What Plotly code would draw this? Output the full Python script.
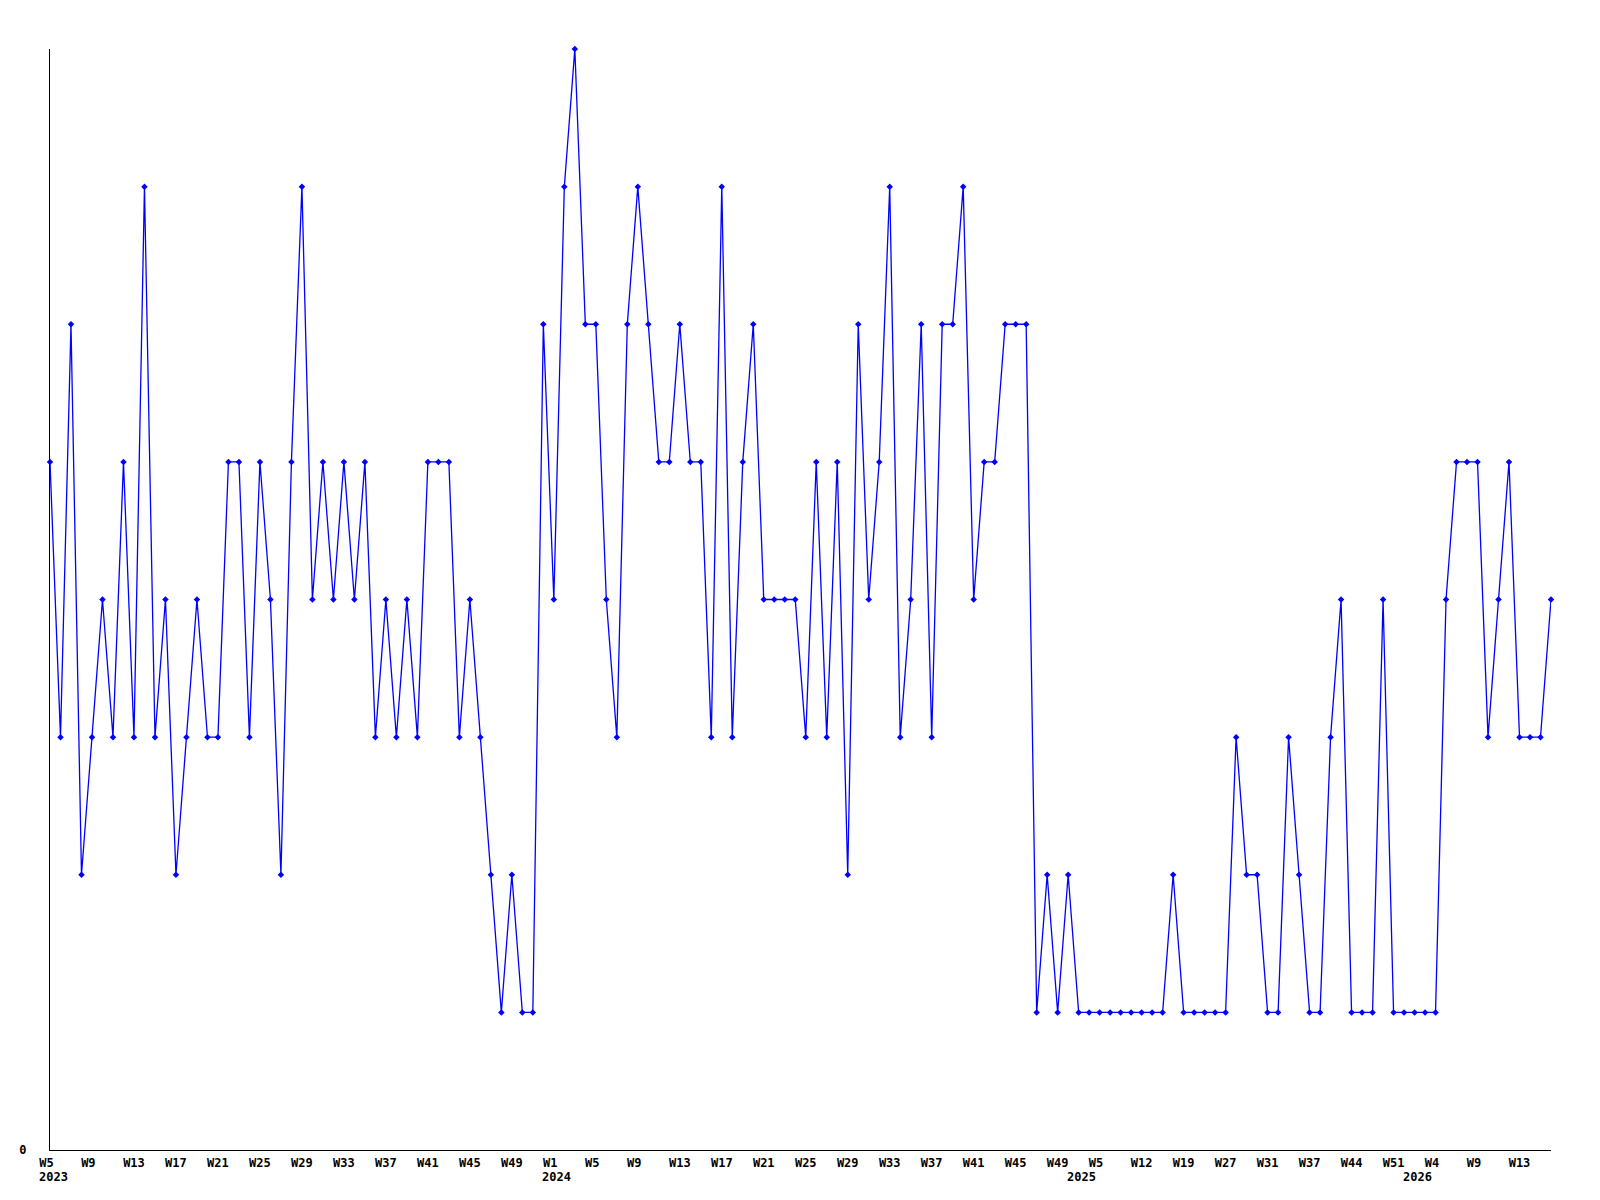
import plotly.graph_objects as go

# ---- data ----
weeks_2023 = list(range(5, 53))
weeks_2024 = list(range(1, 50)) + [51]
weeks_2025 = [2, 3, 5, 7, 9, 10, 12, 14, 15, 17, 19, 21, 23, 25, 27, 28, 29, 30, 31, 32, 34, 35,
              37, 39, 40, 42, 44, 46, 47, 49, 51, 52]
weeks_2026 = [1, 2, 4, 5, 6, 8, 9, 10, 11, 12, 13, 14, 15, 16]

values = [5, 3, 6, 2, 3, 4, 3, 5, 3, 7, 3, 4, 2, 3, 4, 3, 3, 5, 5, 3, 5, 4, 2, 5, 7, 4, 5,
          4, 5, 4, 5, 3, 4, 3, 4, 3, 5, 5, 5, 3, 4, 3, 2, 1, 2, 1, 1,
          6, 4, 7, 8, 6, 6, 4, 3, 6, 7, 6, 5, 5, 6, 5, 5, 3, 7, 3, 5, 6, 4, 4, 4, 4, 3, 5, 3, 5,
          2, 6, 4, 5, 7, 3, 4, 6, 3, 6, 6, 7, 4, 5, 5, 6, 6, 6,
          1, 2, 1, 2,
          1, 1, 1, 1, 1, 1, 1, 1, 1,
          2, 1, 1, 1, 1, 1, 3, 2, 2, 1, 1, 3, 2, 1, 1, 3, 4, 1, 1, 1, 4, 1, 1, 1, 1, 1,
          4, 5, 5, 5, 3, 4, 5, 3, 3, 3, 4]

year_weeks = [(2023, weeks_2023), (2024, weeks_2024), (2025, weeks_2025), (2026, weeks_2026)]
categories = []
cat_year = []
cat_week = []
for yr, wks in year_weeks:
    for w in wks:
        categories.append(f"{yr}-W{w:02d}")
        cat_year.append(yr)
        cat_week.append(w)

assert len(categories) == len(values), (len(categories), len(values))

# week tick labels every 4th category
NB = "\u00a0"
tick_vals, tick_text = [], []
for i in range(0, len(categories), 4):
    wlab = f"W{cat_week[i]}"
    wlab = wlab + NB * (3 - len(wlab))
    tick_vals.append(categories[i])
    tick_text.append(wlab)

# year labels under the first week of each year
year_starts = []
seen = set()
for c, yr in zip(categories, cat_year):
    if yr not in seen:
        seen.add(yr)
        year_starts.append((c, yr))

tick_font = dict(family="DejaVu Sans Mono", size=12, color="#000000", weight="bold")

fig = go.Figure()
fig.add_trace(go.Scatter(
    x=categories, y=values, mode="lines+markers",
    line=dict(color="#0000FF", width=1.3),
    marker=dict(symbol="diamond", size=5, color="#0000FF"),
    cliponaxis=False,
    hoverinfo="x+y",
))

for c, yr in year_starts:
    fig.add_annotation(
        x=c, y=0, xref="x", yref="paper",
        text=str(yr), showarrow=False,
        xanchor="center", yanchor="top", xshift=3, yshift=-18,
        font=tick_font,
    )

fig.update_layout(
    width=1592, height=1192,
    paper_bgcolor="white", plot_bgcolor="white",
    margin=dict(l=42, r=49, t=41, b=50),
    showlegend=False,
    xaxis=dict(
        type="category",
        range=[0, len(categories) - 1],
        tickmode="array", tickvals=tick_vals, ticktext=tick_text,
        showgrid=False, zeroline=False,
        showline=True, linecolor="#000000", linewidth=1,
        ticks="", tickfont=tick_font, tickangle=0,
        ticklabelshift=0, ticklabelstandoff=2,
    ),
    yaxis=dict(
        range=[0, 8],
        tickmode="array", tickvals=[0], ticktext=["0"],
        showgrid=False, zeroline=False,
        showline=True, linecolor="#000000", linewidth=1,
        ticks="", tickfont=tick_font,
        ticklabelstandoff=20,
    ),
)

fig.write_html("out.html")
